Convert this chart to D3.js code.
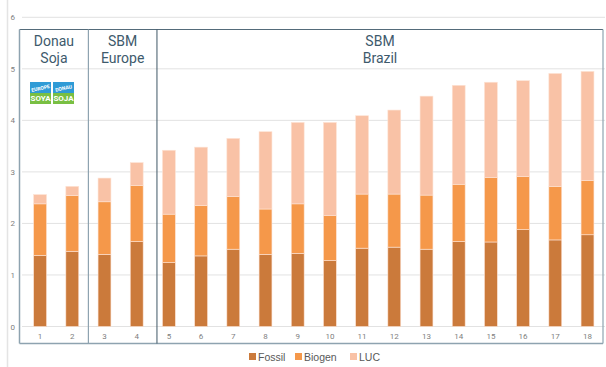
<!DOCTYPE html>
<html>
<head>
<meta charset="utf-8">
<script src="https://cdn.jsdelivr.net/npm/d3@7"></script>
<style>
  body { margin: 0; background: #fff; }
  svg { display: block; font-family: Roboto, "Open Sans", sans-serif; }
</style>
</head>
<body>
<div id="chart"></div>
<script>
const categories = ["1","2","3","4","5","6","7","8","9","10","11","12","13","14","15","16","17","18"];
const fossil = [1.38,1.46,1.40,1.65,1.24,1.37,1.50,1.40,1.42,1.28,1.52,1.54,1.50,1.65,1.64,1.88,1.68,1.78];
const biogen = [1.00,1.08,1.02,1.09,0.94,0.98,1.02,0.88,0.96,0.87,1.05,1.03,1.05,1.11,1.25,1.03,1.04,1.05];
const luc    = [0.18,0.18,0.46,0.44,1.24,1.13,1.13,1.50,1.58,1.81,1.52,1.63,1.92,1.92,1.85,1.86,2.19,2.12];
const seriesNames = ["Fossil","Biogen","LUC"];
const colors = ["#cb7a3b","#f5984a","#f9c2a6"];
const yTicks = [0,1,2,3,4,5,6];
const groups = [
  {name: ["Donau","Soja"]},
  {name: ["SBM","Europe"]},
  {name: ["SBM","Brazil"]}
];

const w = 606, h = 367;

const svg = d3.select("#chart").append("svg")
  .attr("width", w).attr("height", h);

const x = d3.scaleBand().domain(categories).range([24, 603.6])
  .paddingInner(0.6).paddingOuter(0.3);
const y = d3.scaleLinear().domain([0, 6]).range([326.5, 17.3]);

// faint frame line on the left
svg.append("line")
  .attr("x1", 7.5).attr("x2", 7.5).attr("y1", 0).attr("y2", h)
  .attr("stroke", "#e4e4e4").attr("stroke-width", 1.5);

// gridlines
svg.selectAll(".grid")
  .data(yTicks)
  .enter()
  .append("line")
  .attr("x1", 22).attr("x2", 605)
  .attr("y1", d => y(d)).attr("y2", d => y(d))
  .attr("stroke", "#e2e2e2").attr("stroke-width", 1);

svg.selectAll(".ytick")
  .data(yTicks)
  .enter()
  .append("text")
  .attr("x", 15).attr("y", d => y(d) + 3)
  .attr("text-anchor", "end")
  .style("font-size", "8px")
  .style("fill", "#808080")
  .text(d => d);

// stacked bars
const rows = categories.map((c, i) => ({cat: c, Fossil: fossil[i], Biogen: biogen[i], LUC: luc[i]}));
const stacked = d3.stack().keys(seriesNames)(rows);

svg.selectAll(".layer")
  .data(stacked)
  .enter()
  .append("g")
  .style("fill", (d, i) => colors[i])
  .selectAll("rect")
  .data(d => d)
  .enter()
  .append("rect")
  .attr("x", d => x(d.data.cat))
  .attr("y", d => y(d[1]))
  .attr("width", x.bandwidth())
  .attr("height", d => y(d[0]) - y(d[1]))
  .attr("stroke", "#fde3d4")
  .attr("stroke-width", 0.6);

// category labels
svg.selectAll(".xlab")
  .data(categories)
  .enter()
  .append("text")
  .attr("x", d => x(d) + x.bandwidth() / 2)
  .attr("y", 339)
  .attr("text-anchor", "middle")
  .style("font-size", "8px")
  .style("fill", "#808080")
  .text(d => d);

// group boxes
const boxLeft = 19.5;
const div1 = (x("2") + x.bandwidth() + x("3")) / 2;
const div2 = x("5") - 5.5;
const boxRight = 603;
const boxTop = 29.5, boxBottom = 343.5;

svg.append("line").attr("x1", boxLeft).attr("x2", boxRight).attr("y1", boxTop).attr("y2", boxTop)
  .attr("stroke", "#546b7a").attr("stroke-width", 1.2);
svg.append("line").attr("x1", boxLeft).attr("x2", boxRight).attr("y1", boxBottom).attr("y2", boxBottom)
  .attr("stroke", "#8ea3b0").attr("stroke-width", 1.5);
svg.append("line").attr("x1", boxLeft).attr("x2", boxLeft).attr("y1", boxTop).attr("y2", boxBottom)
  .attr("stroke", "#8ea3b0").attr("stroke-width", 1.5);
svg.append("line").attr("x1", div1).attr("x2", div1).attr("y1", boxTop).attr("y2", boxBottom)
  .attr("stroke", "#8ea3b0").attr("stroke-width", 1.2);
svg.append("line").attr("x1", div2).attr("x2", div2).attr("y1", boxTop).attr("y2", boxBottom)
  .attr("stroke", "#3f5666").attr("stroke-width", 1);
svg.append("line").attr("x1", boxRight).attr("x2", boxRight).attr("y1", boxTop).attr("y2", boxBottom)
  .attr("stroke", "#8ea3b0").attr("stroke-width", 1.2);

const bounds = [[boxLeft, div1], [div1, div2], [div2, boxRight]];
groups.forEach((g, i) => {
  const cx = (bounds[i][0] + bounds[i][1]) / 2;
  svg.append("text")
    .attr("x", cx).attr("y", 46)
    .attr("text-anchor", "middle")
    .style("font-size", "14px")
    .style("fill", "#3e5a6c")
    .text(g.name[0]);
  svg.append("text")
    .attr("x", cx).attr("y", 63)
    .attr("text-anchor", "middle")
    .style("font-size", "14px")
    .style("fill", "#3e5a6c")
    .text(g.name[1]);
});

// logos
const logos = [{top: "EUROPE", bottom: "SOYA", x: 30}, {top: "DONAU", bottom: "SOJA", x: 53}];
logos.forEach(l => {
  const lg = svg.append("g").attr("transform", `translate(${l.x},82)`);
  lg.append("rect").attr("width", 21).attr("height", 22).attr("fill", "#79bf43");
  lg.append("rect").attr("width", 21).attr("height", 11).attr("fill", "#2f9bd6");
  lg.append("text").attr("x", 10.5).attr("y", 8)
    .attr("text-anchor", "middle")
    .attr("transform", "rotate(-12 10.5 6)")
    .style("font-size", "5px").style("font-weight", "bold").style("fill", "#fff")
    .text(l.top);
  lg.append("text").attr("x", 10.5).attr("y", 19)
    .attr("text-anchor", "middle")
    .style("font-size", "8px").style("font-weight", "bold").style("fill", "#fff")
    .text(l.bottom);
});

// legend
const legendX = [249, 295, 350];
const legend = svg.selectAll(".legend")
  .data(seriesNames)
  .enter()
  .append("g")
  .attr("transform", (d, i) => `translate(${legendX[i]},353)`);
legend.append("rect")
  .attr("width", 7).attr("height", 7)
  .style("fill", (d, i) => colors[i]);
legend.append("text")
  .attr("x", 9).attr("y", 7.5)
  .style("font-size", "10.5px")
  .style("font-family", "'Liberation Sans', sans-serif")
  .style("fill", "#595959")
  .text(d => d);
</script>
</body>
</html>
